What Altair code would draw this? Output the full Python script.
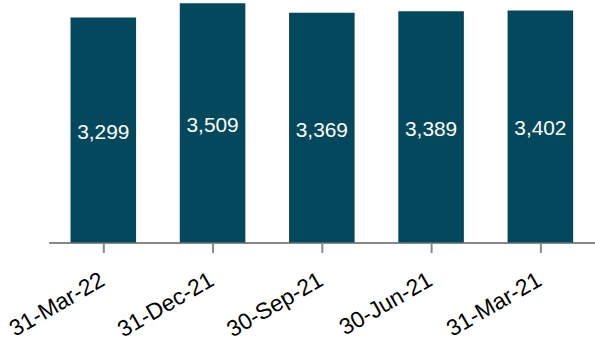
import altair as alt
import pandas as pd

dates = ["31-Mar-22", "31-Dec-21", "30-Sep-21", "30-Jun-21", "31-Mar-21"]
values = [3299, 3509, 3369, 3389, 3402]
labels = ["3,299", "3,509", "3,369", "3,389", "3,402"]

df = pd.DataFrame({"date": dates, "value": values, "label": labels})
df["half"] = df["value"] / 2

axis = alt.Axis(labelAngle=-30, labelFontSize=23, labelFont="Liberation Sans",
                labelColor="#000000", domainColor="#888888", domainWidth=2,
                tickColor="#888888", tickWidth=2, tickSize=10, labelPadding=16,
                labelOffset=-6, grid=False)

x = alt.X("date:N", sort=dates, title=None,
          scale=alt.Scale(paddingInner=0.4, paddingOuter=0.2),
          axis=axis)

bars = alt.Chart(df).mark_bar(color="#03485C").encode(
    x=x,
    y=alt.Y("value:Q", scale=alt.Scale(domain=[0, 3538], nice=False, zero=True), axis=None),
)

text = alt.Chart(df).mark_text(color="white", fontSize=21, font="Liberation Sans",
                               baseline="middle", dy=3).encode(
    x=x,
    y=alt.Y("half:Q"),
    text="label:N",
)

chart = (bars + text).properties(
    width=550, height=243,
    autosize=alt.AutoSizeParams(type="none"),
    padding={"left": 49, "top": 0, "right": 0, "bottom": 104},
).configure_view(stroke=None)

chart.save("out.html", embed_options={"renderer": "svg", "actions": False})
